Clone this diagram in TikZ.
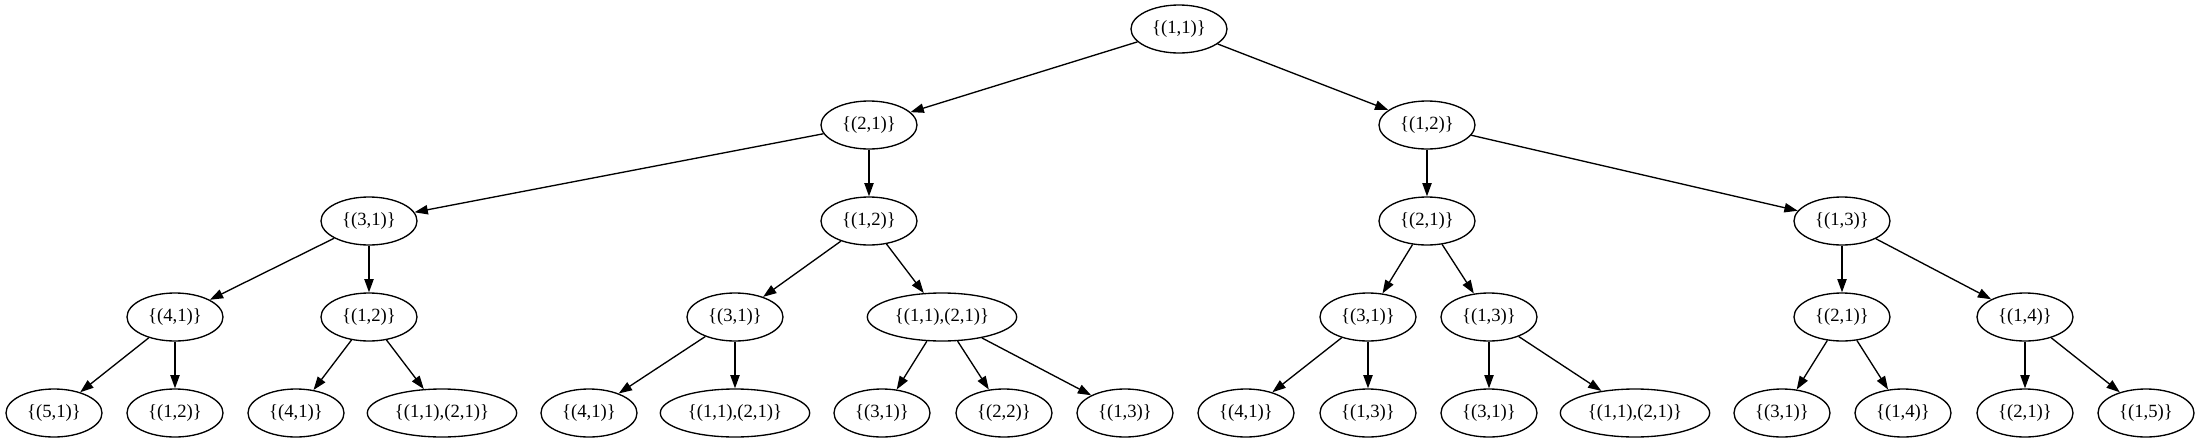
\documentclass[tikz,border=0pt]{standalone}
\usepackage{fontspec}
\setmainfont{Liberation Serif}
\usetikzlibrary{arrows.meta}
\usetikzlibrary{shapes.geometric}

\tikzset{
  state/.style={ellipse, draw, inner sep=0pt, minimum width=72pt, minimum height=36pt,
                font=\fontsize{14pt}{16pt}\selectfont},
  widestate/.style={state, minimum width=112pt}
}

\begin{document}
\begin{tikzpicture}[x=0.75pt, y=-0.75pt, line width=1pt, >={Triangle[length=10pt, width=7pt]}]
          \useasboundingbox (0, 0) rectangle (2200, 443);
          % root and first level
          \node [state] (r) at (1179, 29) {\{(1,1)\}};
          \node [state] (a) at (869, 125) {\{(2,1)\}};
          \node [state] (b) at (1427, 125) {\{(1,2)\}};
          % second level
          \node [state] (aa) at (369, 221) {\{(3,1)\}};
          \node [state] (ab) at (869, 221) {\{(1,2)\}};
          \node [state] (ba) at (1427, 221) {\{(2,1)\}};
          \node [state] (bb) at (1842, 221) {\{(1,3)\}};
          % third level
          \node [state] (aaa) at (175, 317) {\{(4,1)\}};
          \node [state] (aab) at (369, 317) {\{(1,2)\}};
          \node [state] (aba) at (735, 317) {\{(3,1)\}};
          \node [widestate] (abb) at (942, 317) {\{(1,1),(2,1)\}};
          \node [state] (baa) at (1368, 317) {\{(3,1)\}};
          \node [state] (bab) at (1489, 317) {\{(1,3)\}};
          \node [state] (bba) at (1842, 317) {\{(2,1)\}};
          \node [state] (bbb) at (2025, 317) {\{(1,4)\}};
          % leaves
          \node [state] (aaaa) at (54, 413) {\{(5,1)\}};
          \node [state] (aaab) at (175, 413) {\{(1,2)\}};
          \node [state] (aaba) at (296, 413) {\{(4,1)\}};
          \node [widestate] (aabb) at (442, 413) {\{(1,1),(2,1)\}};
          \node [state] (abaa) at (589, 413) {\{(4,1)\}};
          \node [widestate] (abab) at (735, 413) {\{(1,1),(2,1)\}};
          \node [state] (abba) at (882, 413) {\{(3,1)\}};
          \node [state] (abbb) at (1004, 413) {\{(2,2)\}};
          \node [state] (abbc) at (1125, 413) {\{(1,3)\}};
          \node [state] (baaa) at (1246, 413) {\{(4,1)\}};
          \node [state] (baab) at (1368, 413) {\{(1,3)\}};
          \node [state] (baba) at (1489, 413) {\{(3,1)\}};
          \node [widestate] (babb) at (1635, 413) {\{(1,1),(2,1)\}};
          \node [state] (bbaa) at (1782, 413) {\{(3,1)\}};
          \node [state] (bbab) at (1903, 413) {\{(1,4)\}};
          \node [state] (bbba) at (2025, 413) {\{(2,1)\}};
          \node [state] (bbbb) at (2146, 413) {\{(1,5)\}};

          \draw [->] (r) -- (a);
          \draw [->] (r) -- (b);
          \draw [->] (a) -- (aa);
          \draw [->] (a) -- (ab);
          \draw [->] (b) -- (ba);
          \draw [->] (b) -- (bb);
          \draw [->] (aa) -- (aaa);
          \draw [->] (aa) -- (aab);
          \draw [->] (ab) -- (aba);
          \draw [->] (ab) -- (abb);
          \draw [->] (ba) -- (baa);
          \draw [->] (ba) -- (bab);
          \draw [->] (bb) -- (bba);
          \draw [->] (bb) -- (bbb);
          \draw [->] (aaa) -- (aaaa);
          \draw [->] (aaa) -- (aaab);
          \draw [->] (aab) -- (aaba);
          \draw [->] (aab) -- (aabb);
          \draw [->] (aba) -- (abaa);
          \draw [->] (aba) -- (abab);
          \draw [->] (abb) -- (abba);
          \draw [->] (abb) -- (abbb);
          \draw [->] (abb) -- (abbc);
          \draw [->] (baa) -- (baaa);
          \draw [->] (baa) -- (baab);
          \draw [->] (bab) -- (baba);
          \draw [->] (bab) -- (babb);
          \draw [->] (bba) -- (bbaa);
          \draw [->] (bba) -- (bbab);
          \draw [->] (bbb) -- (bbba);
          \draw [->] (bbb) -- (bbbb);
        \end{tikzpicture}
\end{document}
